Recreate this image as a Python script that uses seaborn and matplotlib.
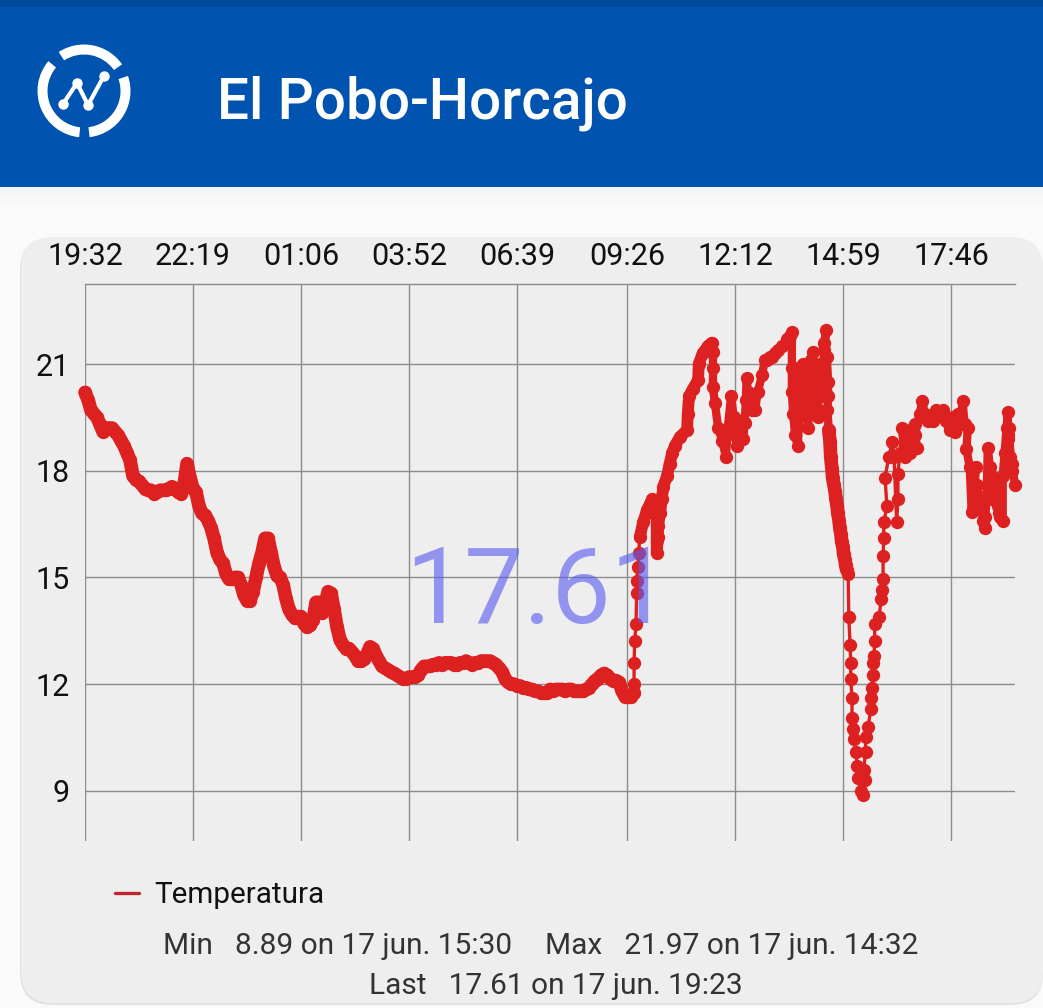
import numpy as np
import pandas as pd
import matplotlib.pyplot as plt
import seaborn as sns
from matplotlib.lines import Line2D
from matplotlib.patches import FancyBboxPatch, Rectangle, Wedge

# === Data ===
night_temps = [
    20.2, 20.0, 19.7, 19.6, 19.5, 19.3, 19.1, 19.2, 19.2, 19.2, 19.1, 19.0, 18.85, 18.7, 18.5, 18.3,
    17.85, 17.75, 17.7, 17.6, 17.5, 17.45, 17.45, 17.35, 17.4, 17.45, 17.45, 17.45, 17.5, 17.55, 17.5,
    17.4, 17.35, 17.6, 18.2, 17.8, 17.5, 17.4, 17.0, 16.8, 16.75, 16.6, 16.4, 16.1, 15.7, 15.5, 15.4,
    15.1, 14.95, 14.95, 15.0, 15.0, 14.8, 14.5, 14.35, 14.35, 14.6, 15.0, 15.4, 15.7, 16.1, 16.1, 15.7,
    15.3, 15.05, 15.0, 14.8, 14.4, 14.1, 13.95, 13.85, 13.9, 13.9, 13.7, 13.6, 13.65, 13.8, 14.3, 14.3,
    14.0, 14.2, 14.6, 14.55, 14.1, 13.6, 13.25, 13.1, 13.0, 13.0, 12.9, 12.8, 12.65, 12.65, 12.7, 12.85,
    13.05, 13.0, 12.8, 12.65, 12.5, 12.45, 12.4, 12.35, 12.3, 12.25, 12.2, 12.15, 12.15, 12.2, 12.2,
    12.2, 12.25, 12.4, 12.5, 12.5, 12.5, 12.55, 12.55, 12.6, 12.55, 12.6, 12.6, 12.6, 12.55, 12.55,
    12.6, 12.6, 12.65, 12.6, 12.55, 12.6, 12.6, 12.65, 12.65, 12.65, 12.65, 12.6, 12.55, 12.45, 12.35,
    12.15, 12.05, 12.0, 12.0, 11.95, 11.95, 11.9, 11.9, 11.85, 11.85, 11.8, 11.8, 11.75, 11.75, 11.75,
    11.85, 11.8, 11.85, 11.85, 11.85, 11.8, 11.85, 11.85, 11.8, 11.8, 11.8, 11.8, 11.85, 11.9, 12.0,
    12.1, 12.15, 12.25, 12.3, 12.25, 12.15, 12.1, 12.1, 12.05, 11.8, 11.65, 11.65, 11.65, 11.75,
]
night_step_min = 4.64

rise_minutes = [849, 849, 850, 852, 853, 853, 855, 856, 858, 863,
                869, 877, 881, 884, 884, 884, 886, 886, 889, 892,
                894, 900, 904, 908, 912, 920, 931, 932, 934, 940,
                948, 949, 955, 963, 969]
rise_temps = [12.0, 12.6, 13.2, 13.7, 14.55, 14.9, 15.3, 15.7, 16.15, 16.55,
              16.9, 17.2, 17.0, 16.6, 16.05, 15.7, 16.15, 16.45, 16.8, 17.2,
              17.55, 17.85, 18.2, 18.5, 18.7, 18.95, 19.15, 19.6, 20.1, 20.3,
              20.55, 21.0, 21.3, 21.5, 21.6]

peak_minutes = [971, 971, 971, 974, 979, 985, 991, 994, 999, 1003,
                1005, 1008, 1010, 1012, 1014, 1017, 1020, 1022, 1023, 1025,
                1028, 1031, 1033, 1036, 1040, 1047, 1051, 1055, 1059, 1063,
                1067, 1071, 1078, 1085, 1090, 1093, 1093, 1093, 1095, 1098,
                1102, 1105, 1098, 1100, 1103, 1106, 1108, 1110, 1113, 1116,
                1118, 1121, 1119, 1122, 1125, 1127, 1129, 1131, 1133, 1136,
                1134, 1139, 1141, 1143, 1146, 1143, 1147, 1149, 1149, 1148,
                1150]
peak_temps = [21.35, 20.9, 20.35, 19.9, 19.2, 18.85, 18.4, 19.2, 20.1, 19.5,
              19.0, 18.7, 18.85, 19.4, 19.1, 18.9, 19.35, 20.0, 20.6, 20.2,
              20.0, 19.7, 19.8, 19.7, 20.2, 20.7, 21.1, 21.1, 21.2, 21.2,
              21.3, 21.4, 21.5, 21.7, 21.8, 21.9, 20.9, 20.2, 19.6, 19.0,
              18.7, 19.6, 20.4, 20.0, 20.9, 20.2, 19.6, 21.0, 20.2, 19.7,
              19.2, 20.0, 20.6, 21.1, 21.35, 20.6, 20.3, 19.8, 19.5, 21.0,
              20.4, 20.1, 20.7, 21.4, 21.95, 21.6, 21.2, 20.5, 20.1, 19.7,
              19.15]

fall_minutes = [1152, 1153, 1155, 1156, 1158, 1160, 1161, 1163, 1164, 1166,
                1167, 1169, 1170, 1172, 1173, 1175, 1176, 1178]
fall_temps = [18.8, 18.4, 18.05, 17.8, 17.6, 17.4, 17.2, 17.0, 16.8, 16.6,
              16.4, 16.2, 16.0, 15.85, 15.65, 15.5, 15.35, 15.2]

dip_minutes = [1180, 1181, 1183, 1184, 1184, 1186, 1186, 1187, 1189, 1192,
               1194, 1195, 1200, 1203]
dip_temps = [15.1, 13.9, 13.1, 12.6, 12.15, 11.6, 11.05, 10.75, 10.45, 10.1,
             9.7, 9.35, 9.0, 8.89]

climb_minutes = [1206, 1204, 1207, 1207, 1211, 1215, 1215, 1217, 1218, 1218,
                 1220, 1221, 1221, 1228, 1231, 1232, 1234, 1234, 1235, 1235,
                 1240, 1237, 1243, 1248, 1251, 1255, 1257, 1257, 1260, 1263]
climb_temps = [9.3, 9.6, 10.1, 10.5, 10.8, 11.3, 11.6, 11.9, 12.25, 12.6,
               12.8, 13.2, 13.7, 13.9, 14.4, 14.65, 14.95, 15.6, 16.1, 16.55,
               17.0, 17.8, 18.4, 18.8, 18.4, 16.55, 17.2, 17.9, 18.5, 19.2]

evening_minutes = [1268, 1271, 1275, 1280, 1283, 1286, 1283, 1291, 1294, 1299,
                   1303, 1308, 1311, 1316, 1322, 1326, 1331, 1337, 1342, 1345,
                   1350, 1353, 1357, 1360, 1365, 1363, 1368, 1371, 1374, 1377,
                   1375, 1379, 1381, 1384, 1386, 1389, 1391, 1392, 1394, 1396,
                   1399, 1402, 1404, 1407, 1409, 1411, 1413, 1415, 1419, 1419,
                   1422, 1425, 1427, 1427, 1430, 1428, 1433, 1427, 1433, 1438]
evening_temps = [18.4, 18.9, 18.5, 19.2, 19.3, 18.65, 19.0, 19.6, 19.95, 19.6,
                 19.4, 19.5, 19.4, 19.7, 19.55, 19.7, 19.4, 19.15, 19.5, 19.1,
                 19.6, 19.3, 19.95, 19.3, 19.2, 18.6, 18.1, 16.85, 17.5, 18.1,
                 17.0, 17.6, 17.3, 17.0, 16.9, 16.6, 16.4, 16.7, 17.2, 18.65,
                 18.1, 17.2, 17.5, 17.8, 17.2, 17.0, 16.8, 16.7, 16.6, 17.85,
                 18.5, 19.2, 19.65, 19.0, 18.4, 19.2, 18.0, 18.9, 18.2, 17.6]

x_ticks = [0, 167, 334, 501, 668, 838, 1005, 1172, 1339]
x_labels = ["19:32", "22:19", "01:06", "03:52", "06:39", "09:26", "12:12", "14:59", "17:46"]
y_ticks = [9, 12, 15, 18, 21]

night_minutes = np.arange(len(night_temps)) * night_step_min
df = pd.DataFrame({
    "minutes": np.concatenate([night_minutes, rise_minutes, peak_minutes, fall_minutes,
                               dip_minutes, climb_minutes, evening_minutes]),
    "temp": night_temps + rise_temps + peak_temps + fall_temps + dip_temps + climb_temps + evening_temps,
})
night_df = pd.DataFrame({"minutes": night_minutes, "temp": night_temps})
rise_df = pd.DataFrame({"minutes": rise_minutes[8:], "temp": rise_temps[8:]})
peak_df = pd.DataFrame({"minutes": peak_minutes, "temp": peak_temps})
fall_df = pd.DataFrame({"minutes": peak_minutes[-1:] + fall_minutes, "temp": peak_temps[-1:] + fall_temps})
evening_df = pd.DataFrame({"minutes": climb_minutes[-1:] + evening_minutes, "temp": climb_temps[-1:] + evening_temps})

W, H = 1043, 1008
RED = "#dd2020"
sns.set_theme(style="white")
plt.rcParams["font.family"] = ["Roboto", "DejaVu Sans"]

fig = plt.figure(figsize=(W / 100, H / 100), dpi=100, facecolor="#fafafa")

# === App chrome, drawn in pixel coordinates (y up) ===
bg = fig.add_axes([0, 0, 1, 1], zorder=0)
bg.set_xlim(0, W)
bg.set_ylim(0, H)
bg.axis("off")
for i, c in enumerate(["#f4f4f4", "#f6f6f6", "#f8f8f8"]):
    bg.add_patch(Rectangle((0, H - 187 - 6 * (i + 1)), W, 6, color=c, lw=0))
bg.add_patch(Rectangle((0, H - 187), W, 187, color="#0054b0", lw=0))
bg.add_patch(Rectangle((0, H - 7), W, 7, color="#004a9e", lw=0))
bg.add_patch(FancyBboxPatch((20, 3), 1023, 767, boxstyle="round,pad=0,rounding_size=32",
                            fc="#e2e2e2", ec="none"))
bg.add_patch(FancyBboxPatch((21, 5), 1022, 766, boxstyle="round,pad=0,rounding_size=32",
                            fc="#eeeeee", ec="none"))
bg.text(217, H - 103, "El Pobo-Horcajo", color="white", fontsize=40.8, fontweight="medium",
        va="center", ha="left")

# logo
cx, cy = 84, H - 91
for a, b in [(35, 123), (140, 264), (277, 379)]:
    bg.add_patch(Wedge((cx, cy), 46.5, a, b, width=10, color="white", lw=0))
pts_x = [63, 77, 88, 104]
pts_y = [H - 104, H - 83, H - 105, H - 76]
bg.plot(pts_x, pts_y, color="white", lw=3)
bg.plot(pts_x, pts_y, "o", color="white", ms=7.5, mew=0)

# === Chart ===
ax = fig.add_axes([85 / W, 1 - 841 / H, 930 / W, 557 / H], zorder=1)
ax.patch.set_alpha(0)
sns.lineplot(data=df, x="minutes", y="temp", ax=ax, sort=False, estimator=None,
             color=RED, lw=2.4, marker="o", markersize=9.6, markeredgewidth=0,
             legend=False, zorder=3, clip_on=False)

# the real feed is sampled much finer than what can be read off, so the dense
# stretches are a solid ribbon rather than separate beads
for part, width in [(night_df, 9.8), (rise_df, 8.5), (peak_df, 6), (fall_df, 9.8), (evening_df, 6)]:
    sns.lineplot(data=part, x="minutes", y="temp", ax=ax, sort=False, estimator=None,
                 color=RED, lw=width, solid_capstyle="round", solid_joinstyle="round",
                 legend=False, zorder=3, clip_on=False)

ax.set_xlim(0, 1438)
ax.set_ylim(7.59, 23.25)
ax.set_xlabel("")
ax.set_ylabel("")
ax.set_xticks(x_ticks)
ax.set_xticklabels(x_labels)
ax.set_yticks(y_ticks)
ax.xaxis.tick_top()
ax.tick_params(axis="both", length=0, labelsize=22, labelcolor="#111111")
ax.tick_params(axis="x", pad=9.5)
ax.tick_params(axis="y", pad=11)
ax.grid(True, color="#8c8c8c", lw=1.0)
ax.set_axisbelow(True)
for name in ["right", "bottom", "left"]:
    ax.spines[name].set_visible(False)
ax.spines["top"].set_color("#8c8c8c")
ax.spines["top"].set_linewidth(1.0)

# === Overlay: current value, legend and stats ===
top = fig.add_axes([0, 0, 1, 1], zorder=2)
top.set_xlim(0, W)
top.set_ylim(0, H)
top.axis("off")
top.text(538, H - 594, "17.61", color="#5a5cf0", alpha=0.62, fontsize=76,
         fontweight="normal", ha="center", va="center")

handle = Line2D([], [], color="#c0272d", lw=2.4)
ax.legend([handle], ["Temperatura"], loc="center left", frameon=False, fontsize=21.3,
          handlelength=0.8, handletextpad=0.54, borderpad=0, borderaxespad=0,
          bbox_to_anchor=(30 / 930, -54 / 557), labelcolor="#111111")

stat_color = "#333333"
top.text(163, H - 946, "Min   8.89 on 17 jun. 15:30", color=stat_color, fontsize=21.5, va="center")
top.text(545, H - 946, "Max   21.97 on 17 jun. 14:32", color=stat_color, fontsize=21.5, va="center")
top.text(369, H - 986, "Last   17.61 on 17 jun. 19:23", color=stat_color, fontsize=21.5, va="center")

fig.savefig("out.png", dpi=100, facecolor=fig.get_facecolor())
